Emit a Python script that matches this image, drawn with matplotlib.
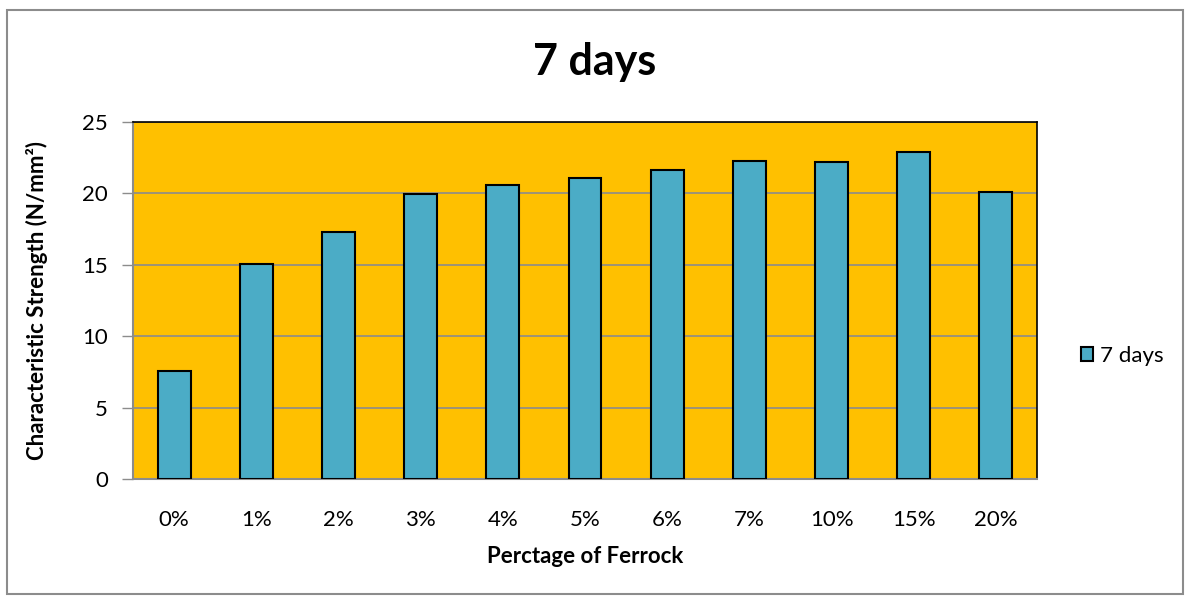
import matplotlib.pyplot as plt
from matplotlib.patches import Rectangle

# data
categories = ["0%", "1%", "2%", "3%", "4%", "5%", "6%", "7%", "10%", "15%", "20%"]
strength_7d = [7.57, 15.07, 17.33, 19.93, 20.56, 21.07, 21.63, 22.24, 22.17, 22.89, 20.09]

plt.rcParams['font.family'] = ['Lato', 'DejaVu Sans']

fig = plt.figure(figsize=(11.86, 5.97), dpi=100)
ax = fig.add_axes([133/1186, 1 - 479/597, (1037-133)/1186, (479-122)/597])

x = range(len(categories))
ax.bar(x, strength_7d, width=0.40, color="#4bacc6", edgecolor="black",
       linewidth=1.5, label="7 days", zorder=3)

ax.set_facecolor("#ffc000")
ax.set_xlim(-0.5, len(categories) - 0.5)
ax.set_ylim(0, 25)
ax.set_yticks([0, 5, 10, 15, 20, 25])
ax.yaxis.grid(True, color="#8c8c8c", linewidth=1.2, zorder=0)
ax.set_xticks(list(x))
ax.set_xticklabels(categories)
ax.tick_params(axis="x", length=0, pad=22, labelsize=16)
ax.tick_params(axis="y", length=8, width=1, color="#8c8c8c", pad=10, labelsize=16)

for side in ["left", "bottom"]:
    ax.spines[side].set_color("#8c8c8c")
    ax.spines[side].set_linewidth(1.5)
for side in ["top", "right"]:
    ax.spines[side].set_color("black")
    ax.spines[side].set_linewidth(1.2)

fig.text(595/1186, 1 - 62/597, "7 days", ha="center", va="center",
         fontsize=31, fontweight="bold")
ax.set_xlabel("Perctage of Ferrock", fontsize=16, fontweight="bold", labelpad=12)
ax.set_ylabel("Characteristic Strength (N/mm²)", fontsize=16, fontweight="bold", labelpad=25)

ax.legend(loc="center left", bbox_to_anchor=(1081/1186, 1 - 356/597),
          bbox_transform=fig.transFigure, frameon=False, fontsize=16,
          borderpad=0, borderaxespad=0,
          handlelength=0.55, handleheight=0.55, handletextpad=0.3)

# outer chart border
fig.patches.append(Rectangle((7/1186, 3/597), 1 - 10/1186, 1 - 13/597,
                             transform=fig.transFigure, fill=False,
                             edgecolor="#8c8c8c", linewidth=1.5))

fig.savefig("out.png", dpi=100)
